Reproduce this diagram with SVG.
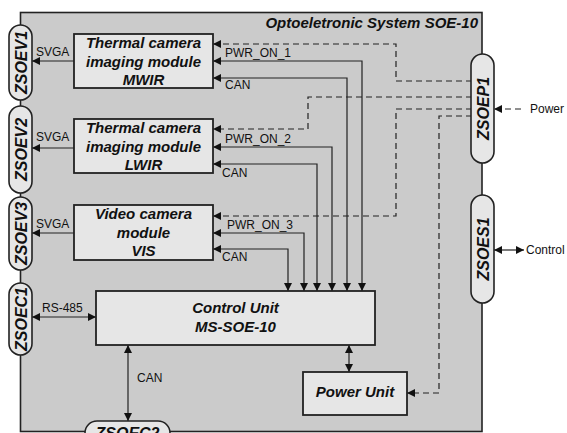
<svg xmlns="http://www.w3.org/2000/svg" width="567" height="433" viewBox="0 0 567 433">
<defs>
<marker id="ah" viewBox="0 0 10 10" refX="10" refY="5" markerWidth="8" markerHeight="8" markerUnits="userSpaceOnUse" orient="auto-start-reverse">
<path d="M0,0 L10,5 L0,10 z" fill="#111"/>
</marker>
<style>
.box{fill:#e6e6e6;stroke:#222;stroke-width:1.8}
.pill{fill:#e6e6e6;stroke:#222;stroke-width:1.6}
.t{font-family:"Liberation Sans",Arial,sans-serif;font-weight:bold;font-style:italic;font-size:15px;fill:#111;text-anchor:middle}
.p{font-family:"Liberation Sans",Arial,sans-serif;font-weight:bold;font-style:italic;font-size:16px;fill:#111;text-anchor:middle}
.l{font-family:"Liberation Sans",Arial,sans-serif;font-size:12px;fill:#111}
.c{fill:none;stroke:#222;stroke-width:1.2}
.d{fill:none;stroke:#222;stroke-width:1.2;stroke-dasharray:6,4}
</style>
</defs>
<rect width="567" height="433" fill="#fff"/>
<g id="system">
<rect x="20.5" y="12.5" width="461.5" height="419" fill="#cbcbcb" stroke="#222" stroke-width="1.6"/>
<text class="t" x="478" y="28" style="text-anchor:end">Optoeletronic System SOE-10</text>
</g>
<g id="connectors">
<!-- SVGA -->
<line class="c" x1="74" y1="61" x2="32" y2="61" marker-end="url(#ah)"/>
<line class="c" x1="74" y1="148" x2="32" y2="148" marker-end="url(#ah)"/>
<line class="c" x1="74" y1="233" x2="32" y2="233" marker-end="url(#ah)"/>
<text class="l" x="36" y="56">SVGA</text>
<text class="l" x="36" y="141">SVGA</text>
<text class="l" x="36" y="228">SVGA</text>
<!-- RS-485 -->
<line class="c" x1="32" y1="317" x2="96" y2="317" marker-start="url(#ah)" marker-end="url(#ah)"/>
<text class="l" x="42" y="312">RS-485</text>
<!-- CAN bottom -->
<line class="c" x1="128" y1="345" x2="128" y2="421" marker-start="url(#ah)" marker-end="url(#ah)"/>
<text class="l" x="137" y="382">CAN</text>
<!-- control to power -->
<line class="c" x1="349" y1="345" x2="349" y2="372" marker-start="url(#ah)" marker-end="url(#ah)"/>
<!-- PWR_ON / CAN lines -->
<polyline class="c" points="362,291 362,61 213,61" marker-start="url(#ah)" marker-end="url(#ah)"/>
<polyline class="c" points="347,291 347,78 213,78" marker-start="url(#ah)" marker-end="url(#ah)"/>
<polyline class="c" points="332,291 332,147 213,147" marker-start="url(#ah)" marker-end="url(#ah)"/>
<polyline class="c" points="317,291 317,164 213,164" marker-start="url(#ah)" marker-end="url(#ah)"/>
<polyline class="c" points="304,291 304,233 213,233" marker-start="url(#ah)" marker-end="url(#ah)"/>
<polyline class="c" points="288,291 288,249 213,249" marker-start="url(#ah)" marker-end="url(#ah)"/>
<text class="l" x="225" y="57">PWR_ON_1</text>
<text class="l" x="225" y="143">PWR_ON_2</text>
<text class="l" x="227" y="229">PWR_ON_3</text>
<text class="l" x="225" y="89">CAN</text>
<text class="l" x="222" y="177">CAN</text>
<text class="l" x="222" y="261">CAN</text>
<!-- dashed power lines -->
<polyline class="d" points="472,81 396,81 396,44 213,44" marker-end="url(#ah)"/>
<polyline class="d" points="472,97 308,97 308,129 213,129" marker-end="url(#ah)"/>
<polyline class="d" points="472,109 396,109 396,216 213,216" marker-end="url(#ah)"/>
<polyline class="d" points="472,116 439,116 439,393 407,393" marker-end="url(#ah)"/>
<!-- external -->
<line class="d" x1="521" y1="109" x2="494" y2="109" marker-end="url(#ah)"/>
<text class="l" x="530" y="113">Power</text>
<line class="c" x1="494" y1="250" x2="524" y2="250" marker-start="url(#ah)" marker-end="url(#ah)"/>
<text class="l" x="526" y="254">Control</text>
</g>
<g id="mwir">
<rect class="box" x="74" y="34" width="139" height="54"/>
<text class="t" x="143.5" y="48">Thermal camera</text>
<text class="t" x="143.5" y="66.5">imaging module</text>
<text class="t" x="143.5" y="85">MWIR</text>
</g>
<g id="lwir">
<rect class="box" x="74" y="119" width="139" height="54"/>
<text class="t" x="143.5" y="133">Thermal camera</text>
<text class="t" x="143.5" y="151.5">imaging module</text>
<text class="t" x="143.5" y="170">LWIR</text>
</g>
<g id="vis">
<rect class="box" x="74" y="205" width="139" height="55"/>
<text class="t" x="143.5" y="219">Video camera</text>
<text class="t" x="143.5" y="237.5">module</text>
<text class="t" x="143.5" y="256">VIS</text>
</g>
<g id="control-unit">
<rect class="box" x="96" y="291" width="279" height="54"/>
<text class="t" x="235.5" y="313">Control Unit</text>
<text class="t" x="235.5" y="332">MS-SOE-10</text>
</g>
<g id="power-unit">
<rect class="box" x="303" y="372" width="104" height="43"/>
<text class="t" x="355" y="397">Power Unit</text>
</g>
<g id="zsoev1">
<rect class="pill" x="9" y="25" width="23" height="75" rx="11.5"/>
<text class="p" transform="translate(26.5,62.5) rotate(-90)">ZSOEV1</text>
</g>
<g id="zsoev2">
<rect class="pill" x="9" y="106" width="23" height="87" rx="11.5"/>
<text class="p" transform="translate(26.5,149.5) rotate(-90)">ZSOEV2</text>
</g>
<g id="zsoev3">
<rect class="pill" x="9" y="197" width="23" height="73" rx="11.5"/>
<text class="p" transform="translate(26.5,233.5) rotate(-90)">ZSOEV3</text>
</g>
<g id="zsoec1">
<rect class="pill" x="9" y="283" width="23" height="72" rx="11.5"/>
<text class="p" transform="translate(26.5,319) rotate(-90)">ZSOEC1</text>
</g>
<g id="zsoep1">
<rect class="pill" x="471" y="54" width="23" height="109" rx="11.5"/>
<text class="p" transform="translate(488.5,108.5) rotate(-90)">ZSOEP1</text>
</g>
<g id="zsoes1">
<rect class="pill" x="471" y="195" width="23" height="108" rx="11.5"/>
<text class="p" transform="translate(488.5,249) rotate(-90)">ZSOES1</text>
</g>
<g id="zsoec2">
<rect class="pill" x="85" y="421" width="85" height="24" rx="12"/>
<text class="p" x="127.5" y="439">ZSOEC2</text>
</g>
</svg>
